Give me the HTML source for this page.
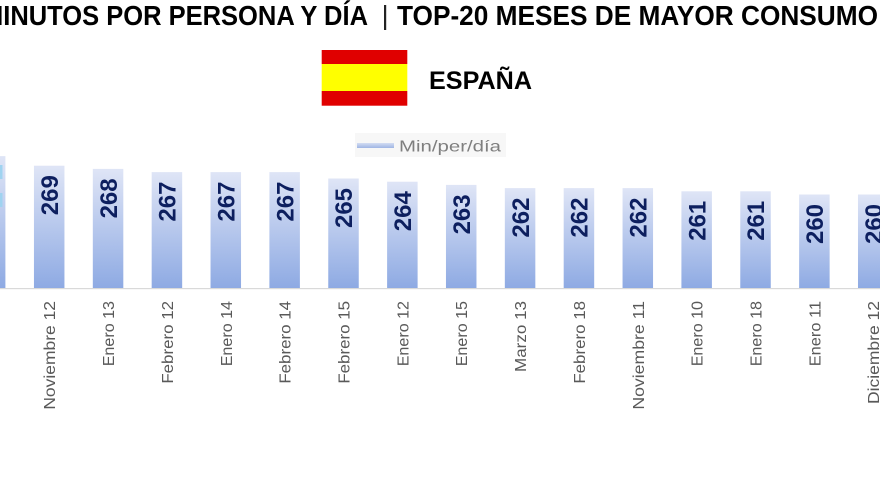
<!DOCTYPE html>
<html>
<head>
<meta charset="utf-8">
<style>
  html, body { margin: 0; padding: 0; background: #ffffff; }
  body { width: 880px; height: 495px; overflow: hidden; }
  svg { display: block; }
  .title { font-family: "Liberation Sans", sans-serif; font-weight: bold; font-size: 28px; fill: #000; }
  .val { font-family: "Liberation Sans", sans-serif; font-weight: bold; font-size: 24px; fill: #0d1f5f; }
  .ax { font-family: "Liberation Sans", sans-serif; font-size: 16px; fill: #595959; }
</style>
</head>
<body>
<svg width="880" height="495" viewBox="0 0 880 495" xmlns="http://www.w3.org/2000/svg">
  <defs>
    <linearGradient id="bg" x1="0" y1="0" x2="0" y2="1">
      <stop offset="0" stop-color="#dfe5f6"/>
      <stop offset="1" stop-color="#8eaae3"/>
    </linearGradient>
    <linearGradient id="lg" x1="0" y1="0" x2="0" y2="1">
      <stop offset="0" stop-color="#d3ddf2"/>
      <stop offset="1" stop-color="#9fb5e4"/>
    </linearGradient>
  </defs>

  <!-- Title -->
  <text class="title" x="-18" y="25" textLength="386" lengthAdjust="spacingAndGlyphs">MINUTOS POR PERSONA Y DÍA</text>
  <rect x="384" y="5" width="2.2" height="25" fill="#222"/>
  <text class="title" x="397" y="25" textLength="481" lengthAdjust="spacingAndGlyphs">TOP-20 MESES DE MAYOR CONSUMO</text>

  <!-- Flag -->
  <rect x="321.7" y="50" width="85.6" height="14" fill="#e00000"/>
  <rect x="321.7" y="64" width="85.6" height="27" fill="#ffff00"/>
  <rect x="321.7" y="91" width="85.6" height="14.7" fill="#e00000"/>
  <text x="429" y="89" font-family="Liberation Sans, sans-serif" font-weight="bold" font-size="25" fill="#000" textLength="103" lengthAdjust="spacingAndGlyphs">ESPAÑA</text>

  <!-- Legend -->
  <rect x="355" y="133" width="151" height="24" fill="#f7f7f7"/>
  <rect x="357" y="143" width="37" height="5" fill="url(#lg)"/>
  <text x="399" y="151.5" font-family="Liberation Sans, sans-serif" font-size="16" fill="#7f7f7f" textLength="102" lengthAdjust="spacingAndGlyphs">Min/per/día</text>

  <!-- Axis line -->
  <rect x="0" y="288" width="880" height="1.2" fill="#d9d9d9"/>

  <!-- Bars -->
  <g fill="url(#bg)">
    <rect x="-25.1" y="156.1" width="30.5" height="131.9"/>
    <rect x="33.95" y="165.7" width="30.5" height="122.3"/>
    <rect x="92.81" y="168.9" width="30.5" height="119.1"/>
    <rect x="151.67" y="172.1" width="30.5" height="115.9"/>
    <rect x="210.53" y="172.1" width="30.5" height="115.9"/>
    <rect x="269.39" y="172.1" width="30.5" height="115.9"/>
    <rect x="328.25" y="178.5" width="30.5" height="109.5"/>
    <rect x="387.11" y="181.7" width="30.5" height="106.3"/>
    <rect x="445.97" y="184.9" width="30.5" height="103.1"/>
    <rect x="504.83" y="188.1" width="30.5" height="99.9"/>
    <rect x="563.69" y="188.1" width="30.5" height="99.9"/>
    <rect x="622.55" y="188.1" width="30.5" height="99.9"/>
    <rect x="681.41" y="191.3" width="30.5" height="96.7"/>
    <rect x="740.27" y="191.3" width="30.5" height="96.7"/>
    <rect x="799.13" y="194.5" width="30.5" height="93.5"/>
    <rect x="857.99" y="194.5" width="30.5" height="93.5"/>
  </g>
  <rect x="0" y="165" width="2.5" height="14" fill="#9fd3f0"/>
  <rect x="0" y="193" width="2.5" height="14" fill="#9fd3f0"/>

  <!-- Value labels -->
  <g class="val" text-anchor="end">
    <text transform="translate(57.9,175.2) rotate(-90)" textLength="40" lengthAdjust="spacingAndGlyphs">269</text>
    <text transform="translate(116.76,178.4) rotate(-90)" textLength="40" lengthAdjust="spacingAndGlyphs">268</text>
    <text transform="translate(175.62,181.6) rotate(-90)" textLength="40" lengthAdjust="spacingAndGlyphs">267</text>
    <text transform="translate(234.48,181.6) rotate(-90)" textLength="40" lengthAdjust="spacingAndGlyphs">267</text>
    <text transform="translate(293.34,181.6) rotate(-90)" textLength="40" lengthAdjust="spacingAndGlyphs">267</text>
    <text transform="translate(352.2,188.0) rotate(-90)" textLength="40" lengthAdjust="spacingAndGlyphs">265</text>
    <text transform="translate(411.06,191.2) rotate(-90)" textLength="40" lengthAdjust="spacingAndGlyphs">264</text>
    <text transform="translate(469.92,194.4) rotate(-90)" textLength="40" lengthAdjust="spacingAndGlyphs">263</text>
    <text transform="translate(528.78,197.6) rotate(-90)" textLength="40" lengthAdjust="spacingAndGlyphs">262</text>
    <text transform="translate(587.64,197.6) rotate(-90)" textLength="40" lengthAdjust="spacingAndGlyphs">262</text>
    <text transform="translate(646.5,197.6) rotate(-90)" textLength="40" lengthAdjust="spacingAndGlyphs">262</text>
    <text transform="translate(705.36,200.8) rotate(-90)" textLength="40" lengthAdjust="spacingAndGlyphs">261</text>
    <text transform="translate(764.22,200.8) rotate(-90)" textLength="40" lengthAdjust="spacingAndGlyphs">261</text>
    <text transform="translate(823.08,204.0) rotate(-90)" textLength="40" lengthAdjust="spacingAndGlyphs">260</text>
    <text transform="translate(881.94,204.0) rotate(-90)" textLength="40" lengthAdjust="spacingAndGlyphs">260</text>
  </g>

  <!-- Axis labels -->
  <g class="ax" text-anchor="end">
    <text transform="translate(55.2,301) rotate(-90)" textLength="108.7" lengthAdjust="spacingAndGlyphs">Noviembre 12</text>
    <text transform="translate(114.06,301) rotate(-90)" textLength="65.3" lengthAdjust="spacingAndGlyphs">Enero 13</text>
    <text transform="translate(172.92,301) rotate(-90)" textLength="82.7" lengthAdjust="spacingAndGlyphs">Febrero 12</text>
    <text transform="translate(231.78,301) rotate(-90)" textLength="65.3" lengthAdjust="spacingAndGlyphs">Enero 14</text>
    <text transform="translate(290.64,301) rotate(-90)" textLength="82.7" lengthAdjust="spacingAndGlyphs">Febrero 14</text>
    <text transform="translate(349.5,301) rotate(-90)" textLength="82.7" lengthAdjust="spacingAndGlyphs">Febrero 15</text>
    <text transform="translate(408.36,301) rotate(-90)" textLength="65.3" lengthAdjust="spacingAndGlyphs">Enero 12</text>
    <text transform="translate(467.22,301) rotate(-90)" textLength="65.3" lengthAdjust="spacingAndGlyphs">Enero 15</text>
    <text transform="translate(526.08,301) rotate(-90)" textLength="71" lengthAdjust="spacingAndGlyphs">Marzo 13</text>
    <text transform="translate(584.94,301) rotate(-90)" textLength="82.7" lengthAdjust="spacingAndGlyphs">Febrero 18</text>
    <text transform="translate(643.8,301) rotate(-90)" textLength="108.7" lengthAdjust="spacingAndGlyphs">Noviembre 11</text>
    <text transform="translate(702.66,301) rotate(-90)" textLength="65.3" lengthAdjust="spacingAndGlyphs">Enero 10</text>
    <text transform="translate(761.52,301) rotate(-90)" textLength="65.3" lengthAdjust="spacingAndGlyphs">Enero 18</text>
    <text transform="translate(820.38,301) rotate(-90)" textLength="65.3" lengthAdjust="spacingAndGlyphs">Enero 11</text>
    <text transform="translate(879.24,301) rotate(-90)" textLength="103" lengthAdjust="spacingAndGlyphs">Diciembre 12</text>
  </g>
</svg>
</body>
</html>
